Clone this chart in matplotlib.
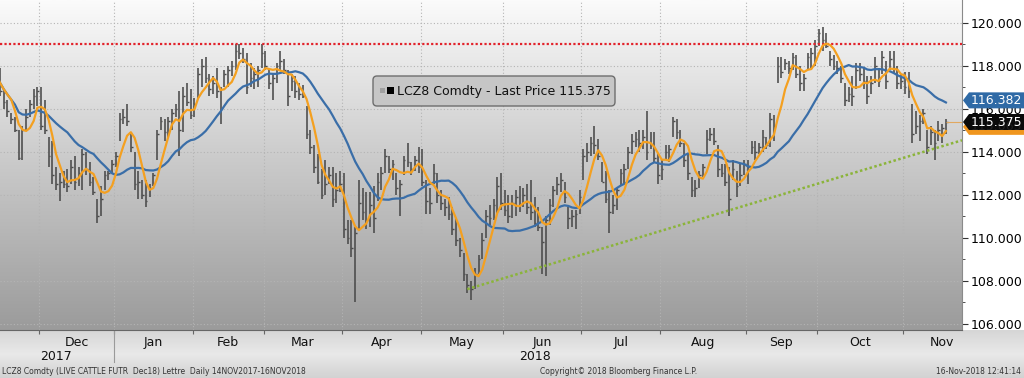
import matplotlib
matplotlib.use("Agg")
import numpy as np
import pandas as pd
import matplotlib.pyplot as plt
from matplotlib.colors import LinearSegmentedColormap
from matplotlib.patches import FancyBboxPatch, Polygon, Rectangle
from matplotlib.transforms import IdentityTransform

# CME closed days inside the window
holidays = ["2017-11-23", "2017-12-25", "2018-01-01", "2018-01-15", "2018-02-19",
            "2018-03-30", "2018-05-28", "2018-07-04", "2018-09-03"]

# daily bars, LCZ8, 14 Nov 2017 .. 16 Nov 2018
highs = [
    # Nov 17
    118.0, 117.9, 116.9, 116.4, 115.8, 115.6, 115.0, 115.2, 116.0, 116.4, 116.9, 117.0,
    # Dec
    117.0, 116.4, 114.7, 114.5, 113.3, 113.0, 113.1, 113.2, 113.6, 113.8,
    113.3, 114.1, 114.0, 113.5, 112.8, 111.8, 112.4, 113.1, 113.1, 113.6,
    # Jan
    114.0, 115.8, 116.0, 116.2, 114.9, 114.0, 113.1, 112.7, 112.7, 112.5, 113.0,
    115.0, 115.6, 115.5, 115.6, 116.0, 116.2, 116.8, 117.0, 117.2, 116.9,
    # Feb
    116.5, 117.9, 118.3, 118.4, 117.6, 117.5, 117.9, 117.0, 117.8, 118.0,
    118.2, 119.0, 119.0, 118.8, 118.6, 118.1, 117.9, 118.0, 119.0,
    # Mar
    118.7, 117.9, 117.6, 118.1, 118.7, 118.3, 117.8, 117.6, 117.5, 117.2, 117.1,
    116.1, 115.0, 114.3, 113.9, 113.2, 113.6, 113.3, 113.3, 113.0, 113.1,
    # Apr
    113.0, 110.8, 110.8, 110.5, 112.7, 112.3, 112.1, 112.1, 112.4, 113.0, 113.3,
    114.1, 113.8, 113.6, 113.0, 112.7, 113.8, 114.4, 113.5, 113.8, 114.2,
    # May
    114.1, 112.7, 112.3, 113.4, 113.0, 112.2, 111.8, 111.9, 111.4, 110.9, 110.0,
    109.3, 108.3, 108.0, 108.6, 109.2, 110.2, 111.3, 111.5, 111.8, 112.8, 113.0,
    # Jun
    112.2, 112.0, 112.0, 112.2, 112.4, 112.3, 112.5, 112.7, 111.9, 111.4, 110.5,
    111.0, 111.8, 112.4, 112.8, 113.0, 112.6, 111.4, 111.3, 111.3, 112.2,
    # Jul
    114.1, 114.4, 114.7, 115.2, 114.6, 113.5, 113.1, 112.2, 112.0, 112.3, 113.2,
    113.4, 114.2, 114.8, 114.9, 115.0, 115.0, 115.9, 114.9, 114.9, 113.9,
    # Aug
    113.6, 114.3, 114.3, 115.6, 115.5, 115.0, 114.4, 113.9, 112.8, 112.7, 113.1, 113.4,
    115.0, 115.1, 115.1, 114.3, 113.4, 113.4, 113.3, 113.6, 113.1, 113.4, 113.6,
    # Sep
    113.6, 114.5, 114.5, 114.4, 115.0, 114.7, 115.8, 115.7, 118.4, 118.4,
    118.3, 118.2, 118.6, 118.5, 118.0, 117.6, 118.6, 118.8, 119.2,
    # Oct
    119.7, 119.8, 119.5, 118.7, 118.5, 118.2, 118.0, 117.2, 117.0, 117.5, 118.1, 118.1,
    117.9, 117.5, 117.5, 118.4, 117.9, 118.7, 118.2, 118.7, 118.7, 118.0, 117.6,
    # Nov 18
    117.7, 117.7, 116.2, 115.9, 115.7, 116.0, 115.0, 115.2, 115.0, 115.4, 115.3, 115.5,
]
lows = [
    117.0, 116.6, 116.0, 115.6, 115.3, 114.9, 113.6, 113.6, 115.0, 115.6, 116.0, 116.1,
    115.0, 114.8, 113.3, 112.5, 112.2, 111.7, 112.3, 112.1, 112.5, 112.2,
    112.4, 112.2, 112.9, 112.4, 112.0, 110.7, 111.0, 112.2, 112.7, 113.0,
    113.3, 114.5, 115.3, 115.2, 114.0, 112.2, 111.8, 111.8, 111.4, 111.9, 112.4,
    113.6, 115.0, 114.5, 114.7, 115.0, 115.6, 113.8, 114.9, 116.1, 115.5,
    115.6, 116.5, 117.0, 117.2, 116.6, 116.7, 116.5, 115.3, 117.0, 117.0,
    117.5, 117.8, 118.3, 118.1, 116.7, 117.0, 116.9, 117.0, 117.9,
    117.8, 116.9, 116.4, 117.2, 117.8, 117.6, 116.1, 116.8, 116.5, 116.4, 116.5,
    114.6, 113.9, 113.0, 112.5, 111.8, 112.0, 112.5, 111.4, 111.6, 112.1,
    110.0, 109.7, 109.1, 107.0, 110.3, 110.8, 110.4, 110.5, 110.2, 111.7, 112.2,
    113.0, 113.0, 112.7, 112.0, 111.0, 112.9, 113.3, 112.9, 113.1, 113.0,
    112.4, 111.1, 111.1, 112.5, 111.6, 111.3, 111.0, 110.8, 110.1, 109.6, 109.1,
    108.0, 107.4, 107.1, 107.6, 108.3, 109.0, 110.0, 110.6, 110.8, 111.1, 111.3,
    111.0, 110.7, 110.9, 111.0, 111.2, 111.4, 111.1, 110.8, 110.5, 110.3, 108.3,
    108.2, 110.6, 111.4, 112.0, 112.1, 111.6, 110.4, 110.5, 110.4, 111.1,
    112.7, 113.5, 113.8, 113.9, 113.6, 112.6, 111.6, 110.2, 111.1, 111.3, 112.4,
    112.5, 113.2, 113.9, 114.2, 114.0, 114.1, 113.6, 114.1, 113.5, 112.5,
    112.7, 113.6, 113.5, 114.7, 114.6, 114.2, 113.3, 112.7, 111.9, 111.9, 112.3, 112.8,
    113.9, 114.5, 114.3, 112.8, 112.8, 112.4, 111.0, 112.7, 111.9, 112.4, 112.9,
    112.5, 113.9, 113.6, 113.9, 114.0, 114.1, 114.2, 114.5, 117.2, 117.4,
    117.8, 117.6, 117.8, 117.4, 116.8, 116.8, 117.8, 117.9, 118.0,
    118.9, 118.7, 118.8, 118.0, 117.8, 117.6, 117.2, 116.1, 116.3, 116.1, 116.9, 117.3,
    116.9, 116.2, 116.7, 117.2, 117.0, 117.6, 116.9, 117.8, 117.6, 116.9, 116.9,
    116.7, 116.5, 114.4, 114.8, 114.5, 115.3, 113.9, 114.3, 113.6, 114.5, 114.4, 114.8,
]
closes = [
    117.6, 116.8, 116.3, 115.9, 115.5, 115.0, 113.7, 115.0, 115.6, 116.2, 116.6, 116.8,
    115.2, 115.0, 113.8, 112.9, 112.5, 112.6, 112.5, 112.4, 113.3, 112.6,
    113.0, 113.9, 113.2, 112.6, 112.1, 111.0, 111.8, 112.9, 113.0, 113.4,
    113.8, 115.5, 115.6, 115.4, 114.2, 112.5, 112.6, 112.0, 111.7, 112.3, 112.9,
    114.8, 115.4, 114.9, 115.4, 115.8, 116.0, 115.0, 116.6, 116.3, 115.7,
    116.2, 117.6, 118.0, 117.4, 116.9, 117.2, 116.8, 116.0, 117.6, 117.8,
    118.0, 118.7, 118.6, 118.3, 117.0, 117.4, 117.6, 117.8, 118.6,
    118.0, 117.2, 117.4, 118.0, 118.2, 117.8, 116.6, 117.3, 116.8, 116.7, 116.6,
    114.8, 114.2, 113.3, 112.6, 112.0, 112.5, 112.9, 111.8, 112.2, 112.5,
    110.4, 110.0, 109.5, 110.2, 111.6, 111.2, 110.8, 111.5, 110.9, 112.6, 113.0,
    113.8, 113.2, 113.4, 112.3, 112.5, 113.6, 113.5, 113.2, 113.6, 113.3,
    112.6, 111.7, 111.6, 113.0, 112.0, 111.6, 111.4, 111.1, 110.4, 109.9, 109.4,
    108.3, 107.8, 107.6, 108.3, 109.0, 109.9, 111.0, 110.9, 111.5, 112.4, 111.6,
    111.3, 111.0, 111.6, 111.9, 111.5, 112.0, 111.4, 111.2, 110.7, 110.5, 109.8,
    110.8, 111.5, 112.2, 112.5, 112.7, 111.9, 110.9, 111.0, 111.1, 111.9,
    113.8, 114.0, 114.4, 114.3, 113.8, 112.6, 111.8, 111.2, 111.5, 112.2, 113.0,
    113.2, 114.0, 114.5, 114.6, 114.4, 114.7, 114.0, 114.3, 113.7, 112.9,
    113.2, 114.0, 114.1, 115.4, 114.9, 114.4, 113.6, 113.0, 112.2, 112.3, 112.9, 113.3,
    114.6, 114.8, 114.5, 113.2, 113.0, 112.6, 111.8, 113.2, 112.4, 112.9, 113.4,
    113.3, 114.2, 114.0, 114.2, 114.7, 114.3, 115.5, 115.2, 118.0, 117.7,
    118.1, 117.9, 118.4, 117.6, 117.2, 117.4, 118.4, 118.6, 118.9,
    119.5, 119.2, 118.9, 118.3, 118.0, 117.9, 117.4, 116.4, 116.7, 116.6, 117.8, 117.6,
    117.3, 116.6, 117.2, 118.0, 117.3, 118.4, 117.3, 118.3, 117.9, 117.2, 117.3,
    117.0, 116.8, 114.8, 115.2, 115.4, 115.8, 114.2, 114.9, 114.4, 115.0, 115.1, 115.375,
]

month_labels = ["Dec", "Jan", "Feb", "Mar", "Apr", "May", "Jun",
                "Jul", "Aug", "Sep", "Oct", "Nov"]
year_labels = [("2017", "2017-12-07"), ("2018", "2018-06-13")]

resistance = 119.0
trend_from = ("2018-05-17", 107.6)
trend_to = ("2018-11-16", 114.3)

legend_text = "LCZ8 Comdty - Last Price 115.375"
last_labels = [  # value, text, face, text colour
    (115.15, "115.065", "#f0961e", "#202020"),
    (116.382, "116.382", "#2f6aa6", "white"),
    (115.375, "115.375", "#0a0a0a", "white"),
]
footer_left = "LCZ8 Comdty (LIVE CATTLE FUTR  Dec18) Lettre  Daily 14NOV2017-16NOV2018"
footer_mid = "Copyright\u00a9 2018 Bloomberg Finance L.P."
footer_right = "16-Nov-2018 12:41:14"

W, H = 1024, 378

dates = pd.bdate_range("2017-11-14", "2018-11-16", freq="C", holidays=holidays)
assert len(dates) == len(closes) == len(highs) == len(lows), (len(dates), len(closes), len(highs), len(lows))
x = np.arange(len(dates))
close_s = pd.Series(closes)
ma_fast = close_s.rolling(5, min_periods=1).mean()
ma_slow = close_s.rolling(20, min_periods=1).mean()


def idx(day):
    return dates.get_indexer([pd.Timestamp(day)], method="nearest")[0]


fig = plt.figure(figsize=(W / 100, H / 100), dpi=100, facecolor="white")

# band under the plot
band = fig.add_axes([0, 0, 1, 48 / H])
band.imshow(np.linspace(0, 1, 64).reshape(-1, 1), aspect="auto", extent=(0, 1, 0, 1),
            cmap=LinearSegmentedColormap.from_list("band", ["#d6d6d6", "#e9e9e9", "#d2d2d2"]))
band.set_axis_off()

ax = fig.add_axes([0, 48 / H, 962 / W, 330 / H])
grad = LinearSegmentedColormap.from_list("bg", ["#9b9b9b", "#c9c9c9", "#fbfbfb"])
ax.imshow(np.linspace(0, 1, 256).reshape(-1, 1), aspect="auto", cmap=grad,
          extent=(0, 1, 0, 1), transform=ax.transAxes, zorder=0, origin="lower")

# bars
ax.vlines(x, lows, highs, color="#4a4a4a", lw=1.15, zorder=3)
ax.hlines(closes, x, x + 0.45, color="#4a4a4a", lw=1.0, zorder=3)

ax.plot(x, ma_slow, color="#3a6ea8", lw=1.6, zorder=4)
ax.plot(x, ma_fast, color="#f4a020", lw=1.6, zorder=5)

xmin, xmax = 1.0, 258.3
ax.axhline(resistance, color="#e2232b", lw=1.6, ls=(0, (1, 1)), zorder=4)
t0, t1 = idx(trend_from[0]), idx(trend_to[0])
slope = (trend_to[1] - trend_from[1]) / (t1 - t0)
ax.plot([t0, xmax], [trend_from[1], trend_from[1] + slope * (xmax - t0)],
        color="#8bb43a", lw=1.8, ls=(0, (1, 1)), zorder=4)
ax.hlines(closes[-1], x[-1], xmax, color="#e1a860", lw=0.8, zorder=4)

ax.set_xlim(xmin, xmax)
ax.set_ylim(105.7, 121.05)

# month ticks
firsts = pd.Series(x, index=dates).groupby([dates.year, dates.month]).first().values[1:]
bounds = list(firsts - 0.5)
centers = [(a + b) / 2 for a, b in zip(bounds[:-1], bounds[1:])] + [bounds[-1] + 10.5]
ax.set_xticks(bounds)
ax.set_xticklabels([])
ax.set_xticks(centers, minor=True)
ax.set_xticklabels(month_labels, minor=True)
ax.tick_params(axis="x", which="major", length=3, color="#666666")
ax.tick_params(axis="x", which="minor", length=0, pad=4, labelsize=9, labelcolor="#111111")

ax.yaxis.tick_right()
ax.set_yticks(np.arange(106, 121, 2))
ax.set_yticks(np.arange(107, 121, 2), minor=True)
ax.set_yticklabels([f"{v:.3f}" for v in np.arange(106, 121, 2)])
ax.tick_params(axis="y", which="major", length=4, pad=2, labelsize=9, color="#333333")
ax.tick_params(axis="y", which="minor", length=2, color="#333333")

ax.grid(True, which="major", color="#b4b4b4", lw=0.8, ls=(0, (1, 2)))
ax.set_axisbelow(True)
for side in ("left", "top"):
    ax.spines[side].set_visible(False)
ax.spines["bottom"].set_color("#666666")
ax.spines["right"].set_color("#8a8a8a")

for text, day in year_labels:
    ax.annotate(text, xy=(idx(day), 0), xycoords=("data", "axes fraction"),
                xytext=(0, -26), textcoords="offset pixels", ha="center", va="center",
                fontsize=9, color="#111111")
ax.plot([bounds[1], bounds[1]], [0, -32 / 330], transform=ax.get_xaxis_transform(),
        color="#9a9a9a", lw=0.8, clip_on=False)

# legend box (pixel coords, y from top)
ident = IdentityTransform()
fig.patches.append(FancyBboxPatch((373, H - 106), 242, 30, boxstyle="round,pad=0,rounding_size=4",
                                  transform=ident, facecolor="#c6c6c6", edgecolor="#6e6e6e", lw=1.0))
fig.patches.append(Rectangle((380, H - 93), 5, 5, transform=ident, facecolor="#a0a0a0", edgecolor="none"))
fig.patches.append(Rectangle((387, H - 94), 7, 7, transform=ident, facecolor="black", edgecolor="none"))
fig.text(397 / W, 1 - 91 / H, legend_text, fontsize=9, color="#111111", va="center")

# last value labels on the price axis
fig.canvas.draw()
right = ax.transAxes.transform((1, 0))[0]
for value, text, face, fg in last_labels:
    yc = ax.transData.transform((0, value))[1]
    poly = [(right + 1, yc), (right + 7, yc + 8), (W, yc + 8), (W, yc - 8), (right + 7, yc - 8)]
    fig.patches.append(Polygon(poly, closed=True, transform=ident, facecolor=face, edgecolor="none"))
    fig.text(right + 9, yc, text, transform=ident, fontsize=9, color=fg, va="center")

fig.text(2 / W, 1 - 371 / H, footer_left, fontsize=5.5, color="#333333", va="center")
fig.text(540 / W, 1 - 371 / H, footer_mid, fontsize=5.5, color="#333333", va="center")
fig.text(1021 / W, 1 - 371 / H, footer_right, fontsize=5.5, color="#333333", va="center", ha="right")

fig.savefig("out.png", dpi=100)
